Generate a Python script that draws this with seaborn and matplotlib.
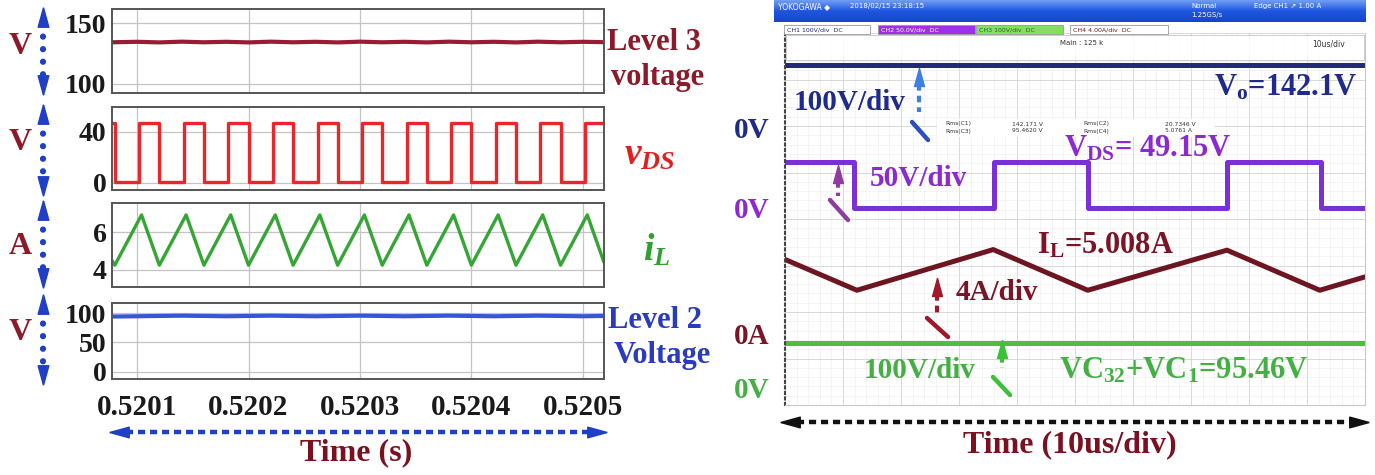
import numpy as np
import matplotlib
matplotlib.use('Agg')
import matplotlib.pyplot as plt
import seaborn as sns
from matplotlib.patches import Rectangle
from matplotlib.colors import LinearSegmentedColormap

# ---------- style ----------
sns.set_theme(style='white')
plt.rcParams['font.family'] = ['Liberation Serif', 'DejaVu Serif']
plt.rcParams['font.weight'] = 'bold'
plt.rcParams['mathtext.fontset'] = 'custom'
plt.rcParams['mathtext.rm'] = 'Liberation Serif:bold'
plt.rcParams['mathtext.it'] = 'Liberation Serif:italic:bold'
plt.rcParams['mathtext.bf'] = 'Liberation Serif:bold'

W, H = 1375, 475

# ---------- data: simulation (left) ----------
t0 = 0.5201                      # s, time offsets below are in us
time_ticks = [0.5201, 0.5202, 0.5203, 0.5204, 0.5205]
time_labels = ['0.5201', '0.5202', '0.5203', '0.5204', '0.5205']

lvl3_t_us = [-22.5, 0, 20, 40, 60, 80, 100, 120, 140, 160, 180, 200,
             220, 240, 260, 280, 300, 320, 340, 360, 380, 400, 419]
lvl3_v = [134.2, 134.6, 134.1, 134.7, 134.2, 134.6, 134.1, 134.7, 134.2, 134.6, 134.1, 134.7,
          134.2, 134.6, 134.1, 134.7, 134.2, 134.6, 134.1, 134.7, 134.2, 134.6, 134.3]

vds_t_us = [-22.5, -20, 2, 20, 42, 60, 82, 100, 122, 140, 162, 180,
            202, 220, 242, 260, 282, 300, 322, 340, 362, 380, 402, 419]
vds_v = [47, 1, 47, 1, 47, 1, 47, 1, 47, 1, 47, 1,
         47, 1, 47, 1, 47, 1, 47, 1, 47, 1, 47, 47]

il_t_us = [-22.5, -20, 4, 20, 44, 60, 84, 100, 124, 140, 164, 180,
           204, 220, 244, 260, 284, 300, 324, 340, 364, 380, 404, 419]
il_a = [4.5, 4.25, 6.9, 4.25, 6.9, 4.25, 6.9, 4.25, 6.9, 4.25, 6.9, 4.25,
        6.9, 4.25, 6.9, 4.25, 6.9, 4.25, 6.9, 4.25, 6.9, 4.25, 6.9, 4.4]

lvl2_t_us = [-22.5, 0, 40, 80, 120, 160, 200, 240, 280, 320, 360, 400, 419]
lvl2_v = [94.0, 94.5, 95.5, 94.5, 95.5, 94.5, 95.5, 94.5, 95.5, 94.5, 95.5, 94.5, 95.0]

# ---------- data: oscilloscope (right) ----------
sc_vds_t = [0, 11.9, 36.0, 52.2, 76.2, 92.4, 100]
sc_vds_v = [49.15, 0, 49.15, 0, 49.15, 0, 0]
sc_il_t = [0, 12.4, 35.9, 52.2, 76.2, 92.2, 100]
sc_il_a = [6.6, 3.95, 7.45, 3.95, 7.4, 3.95, 5.1]
sc_vo_t = [0, 100]
sc_vo_v = [142.1, 142.1]
sc_vc_t = [0, 100]
sc_vc_v = [95.46, 95.46]

# channel zero positions (div) and scales (unit/div)
ch_zero = {'vo': 5.89, 'vds': 4.24, 'il': 1.48, 'vc': 0.38}
ch_scale = {'vo': 100, 'vds': 50, 'il': 4, 'vc': 100}

maroon = '#8b1a2a'
blue_arrow = '#1f3fc4'


def rect(x0, y0, x1, y1):
    return [x0 / W, 1 - y1 / H, (x1 - x0) / W, (y1 - y0) / H]


fig = plt.figure(figsize=(W / 100, H / 100), dpi=100)
fig.patch.set_facecolor('white')

# ---------- left panels ----------
panels = [
    (rect(112, 9, 604, 93), lvl3_t_us, lvl3_v, '#9a1b35', (92.6, 161.5), [100, 150], 3.0, None),
    (rect(112, 107, 604, 190), vds_t_us, vds_v, '#e8262b', (-5.5, 59.6), [0, 40], 2.4, 'steps-post'),
    (rect(112, 203, 604, 287), il_t_us, il_a, '#35a535', (3.1, 7.53), [4, 6], 2.4, None),
    (rect(112, 303, 604, 379), lvl2_t_us, lvl2_v, '#3556d6', (-12, 117), [0, 50, 100], 3.0, None),
]
left_axes = []
for pos, tt, vv, col, ylim, yt, lw, ds in panels:
    ax = fig.add_axes(pos)
    x = t0 + np.array(tt) * 1e-6
    kw = {'drawstyle': ds} if ds else {}
    sns.lineplot(x=x, y=np.array(vv, dtype=float), ax=ax, color=col, lw=lw,
                 estimator=None, sort=False, **kw)
    ax.set_xlim(t0 - 22.5e-6, t0 + 419e-6)
    ax.set_ylim(*ylim)
    ax.set_yticks(yt)
    ax.set_xticks(time_ticks)
    ax.grid(True, color='#c4c4c4', lw=0.9)
    for s in ax.spines.values():
        s.set_color('#555555')
        s.set_linewidth(1.4)
    ax.tick_params(direction='in', length=4, width=1, color='#555555',
                   labelcolor='#1a1a1a', labelsize=20, pad=4)
    ax.tick_params(axis='x', labelbottom=False)
    ax.set_xlabel('')
    ax.set_ylabel('')
    left_axes.append(ax)

ax_b = left_axes[-1]
ax_b.set_xticklabels(time_labels)
ax_b.tick_params(axis='x', labelbottom=True, labelsize=21, pad=11)

# ---------- scope panel ----------
axs = fig.add_axes(rect(785, 33, 1365, 405))
axs.set_facecolor('white')
traces = [
    (sc_vo_t, sc_vo_v, 'vo', '#232a78', None),
    (sc_vds_t, sc_vds_v, 'vds', '#7b2fd6', 'steps-post'),
    (sc_il_t, sc_il_a, 'il', '#6e1522', None),
    (sc_vc_t, sc_vc_v, 'vc', '#4cbf3c', None),
]
for tt, vv, ch, col, ds in traces:
    yd = ch_zero[ch] + np.array(vv, dtype=float) / ch_scale[ch]
    kw = {'drawstyle': ds} if ds else {}
    sns.lineplot(x=np.array(tt, dtype=float), y=yd, ax=axs, color=col, lw=3.6,
                 estimator=None, sort=False, **kw)
axs.set_xlim(0, 100)
axs.set_ylim(0, 8)
axs.set_xticks(np.arange(0, 101, 10))
axs.set_yticks(np.arange(0, 9, 1))
axs.set_xticks(np.arange(0, 101, 2), minor=True)
axs.set_yticks(np.arange(0, 8.01, 0.2), minor=True)
axs.grid(True, which='major', color='#d2d2d2', lw=0.6)
axs.grid(True, which='minor', color='#ececec', lw=0.4)
axs.tick_params(which='both', length=0, labelbottom=False, labelleft=False)
axs.set_xlabel('')
axs.set_ylabel('')
for k, s in axs.spines.items():
    s.set_color('#c8c8c8')
    s.set_linewidth(0.8)
axs.spines['left'].set_color('#444444')
axs.spines['left'].set_linestyle(':')
axs.spines['left'].set_linewidth(1.5)
axs.spines['top'].set_visible(False)

# ---------- overlay in pixel coordinates ----------
ov = fig.add_axes([0, 0, 1, 1])
ov.set_zorder(10)
ov.patch.set_alpha(0)

tri_up = [(0, 1), (-0.55, -1), (0.55, -1), (0, 1)]
tri_dn = [(0, -1), (-0.55, 1), (0.55, 1), (0, -1)]
tri_lf = [(-1, 0), (1, 0.55), (1, -0.55), (-1, 0)]
tri_rt = [(1, 0), (-1, 0.55), (-1, -0.55), (1, 0)]


def v_dbl_arrow(x, y0, y1, col):
    ov.plot([x, x], [y0 + 14, y1 - 14], ls=(0, (0.01, 2.0)), lw=4.5,
            color=col, dash_capstyle='round')
    ov.plot(x, y0 + 7, marker=tri_up, ms=14, color=col, mec=col)
    ov.plot(x, y1 - 7, marker=tri_dn, ms=14, color=col, mec=col)


def h_dbl_arrow(y, x0, x1, col):
    ov.plot([x0 + 14, x1 - 14], [y, y], ls=(0, (1.6, 1.1)), lw=3.2, color=col)
    ov.plot(x0 + 7, y, marker=tri_lf, ms=14, color=col, mec=col)
    ov.plot(x1 - 7, y, marker=tri_rt, ms=14, color=col, mec=col)


def probe(x, tip, shaft_end, diag, col, dcol):
    ov.plot([x, x], [tip + 14, shaft_end], ls=(0, (1.6, 1.2)), lw=3, color=col)
    ov.plot(x, tip + 7, marker=tri_up, ms=13, color=col, mec=col)
    ov.plot([diag[0], diag[2]], [diag[1], diag[3]], lw=3.2, color=dcol,
            solid_capstyle='round')


# left side unit labels and arrows
for y, s in [(47, 'V'), (143, 'V'), (247, 'A'), (333, 'V')]:
    ov.text(20, y, s, color=maroon, fontsize=23, ha='center', va='center')
for y0, y1 in [(10, 92), (107, 193), (203, 285), (297, 382)]:
    v_dbl_arrow(43, y0, y1, blue_arrow)

# left side signal labels
ov.text(654, 43, 'Level 3', color=maroon, fontsize=22, ha='center', va='center')
ov.text(658, 78, 'voltage', color=maroon, fontsize=22, ha='center', va='center')
ov.text(650, 155, r'$v_{DS}$', color='#e02020', fontsize=27, ha='center', va='center')
ov.text(657, 250, r'$i_L$', color='#2ea02e', fontsize=27, ha='center', va='center')
ov.text(655, 321, 'Level 2', color='#2a3bbd', fontsize=22, ha='center', va='center')
ov.text(662, 356, 'Voltage', color='#2a3bbd', fontsize=22, ha='center', va='center')
h_dbl_arrow(432, 112, 604, blue_arrow)
ov.text(356, 453, 'Time (s)', color='#7a1020', fontsize=23, ha='center', va='center')

# scope header
grad = np.linspace(0, 1, 30).reshape(-1, 1)
hdr_cmap = LinearSegmentedColormap.from_list('hdr', ['#6f9df5', '#1f56e0', '#1a44c8'])
ov.imshow(grad, extent=[774, 1366, 22, 0], cmap=hdr_cmap, aspect='auto', zorder=1)
small = dict(family=['DejaVu Sans'], fontweight='normal')
ov.text(778, 7, 'YOKOGAWA \u25c6', color='white', fontsize=5.5, va='center', **small)
ov.text(850, 6, '2018/02/15 23:18:15', color='white', fontsize=5, va='center', **small)
ov.text(1191, 6, 'Normal', color='white', fontsize=5, va='center', **small)
ov.text(1191, 15, '1.25GS/s', color='white', fontsize=5, va='center', **small)
ov.text(1254, 6, 'Edge CH1 \u2197 1.00 A', color='white', fontsize=5, va='center', **small)

chan_boxes = [
    (784, 870, 'white', '#1f2a78', 'CH1 100V/div  DC'),
    (878, 975, '#a22ee8', 'white', 'CH2 50.0V/div  DC'),
    (976, 1063, '#82e05e', '#1e6a1e', 'CH3 100V/div  DC'),
    (1070, 1168, 'white', '#6e1522', 'CH4 4.00A/div  DC'),
]
for x0, x1, fc, tc, s in chan_boxes:
    ov.add_patch(Rectangle((x0, 25), x1 - x0, 9, facecolor=fc, edgecolor='#999999', lw=0.6))
    ov.text(x0 + 3, 29.5, s, color=tc, fontsize=4.5, va='center', **small)

ov.add_patch(Rectangle((786, 35), 578, 25, facecolor='white', alpha=0.85,
                       edgecolor='#bbbbbb', lw=0.6))
ov.text(1082, 43, 'Main : 125 k', color='#333333', fontsize=5, ha='center', va='center', **small)
ov.text(1329, 44, '10us/div', color='#333333', fontsize=5.5, ha='center', va='center', **small)

ov.add_patch(Rectangle((937, 119), 278, 18, facecolor='white', edgecolor='none'))
for x, a, b in [(945, 'Rms(C1)', 'Rms(C3)'), (1012, '142.171 V', '95.4620 V'),
                (1083, 'Rms(C2)', 'Rms(C4)'), (1165, '20.7346 V', '5.0761 A')]:
    ov.text(x, 124, a, color='#333333', fontsize=4.3, va='center', **small)
    ov.text(x, 131, b, color='#333333', fontsize=4.3, va='center', **small)

# scope annotations
navy = '#1f2a8a'
purple = '#8a2ad0'
sc_maroon = '#7a1426'
green = '#44b044'
ov.text(752, 131, '0V', color=navy, fontsize=21, ha='center', va='center')
ov.text(850, 102, '100V/div', color=navy, fontsize=21, ha='center', va='center')
probe(919, 70, 112, (912, 122, 928, 140), '#3d7fe0', '#2a4fc0')
ov.text(1286, 88, r'V$_\mathregular{o}$=142.1V', color=navy, fontsize=22, ha='center', va='center')

ov.text(1148, 149, r'V$_\mathregular{DS}$= 49.15V', color=purple, fontsize=22, ha='center', va='center')
ov.text(918, 178, '50V/div', color=purple, fontsize=21, ha='center', va='center')
probe(838, 167, 196, (830, 200, 848, 220), '#8e3c9e', '#8e3c9e')
ov.text(752, 211, '0V', color=purple, fontsize=21, ha='center', va='center')

ov.text(1105, 246, r'I$_\mathregular{L}$=5.008A', color=sc_maroon, fontsize=22, ha='center', va='center')
ov.text(997, 293, '4A/div', color=sc_maroon, fontsize=21, ha='center', va='center')
probe(937, 280, 316, (927, 318, 948, 337), '#a0182a', '#a0182a')
ov.text(752, 336, '0A', color=sc_maroon, fontsize=21, ha='center', va='center')

ov.text(920, 370, '100V/div', color=green, fontsize=21, ha='center', va='center')
probe(1002, 342, 368, (993, 377, 1010, 395), '#3cc03c', '#3cc03c')
ov.text(1184, 371, r'VC$_\mathregular{32}$+VC$_\mathregular{1}$=95.46V', color=green,
        fontsize=22, ha='center', va='center')
ov.text(752, 390, '0V', color=green, fontsize=21, ha='center', va='center')

h_dbl_arrow(422, 783, 1366, '#111111')
ov.text(1070, 445, 'Time (10us/div)', color='#7a1020', fontsize=23, ha='center', va='center')

ov.set_xlim(0, W)
ov.set_ylim(H, 0)
ov.axis('off')

fig.savefig('out.png', dpi=100, facecolor='white')
